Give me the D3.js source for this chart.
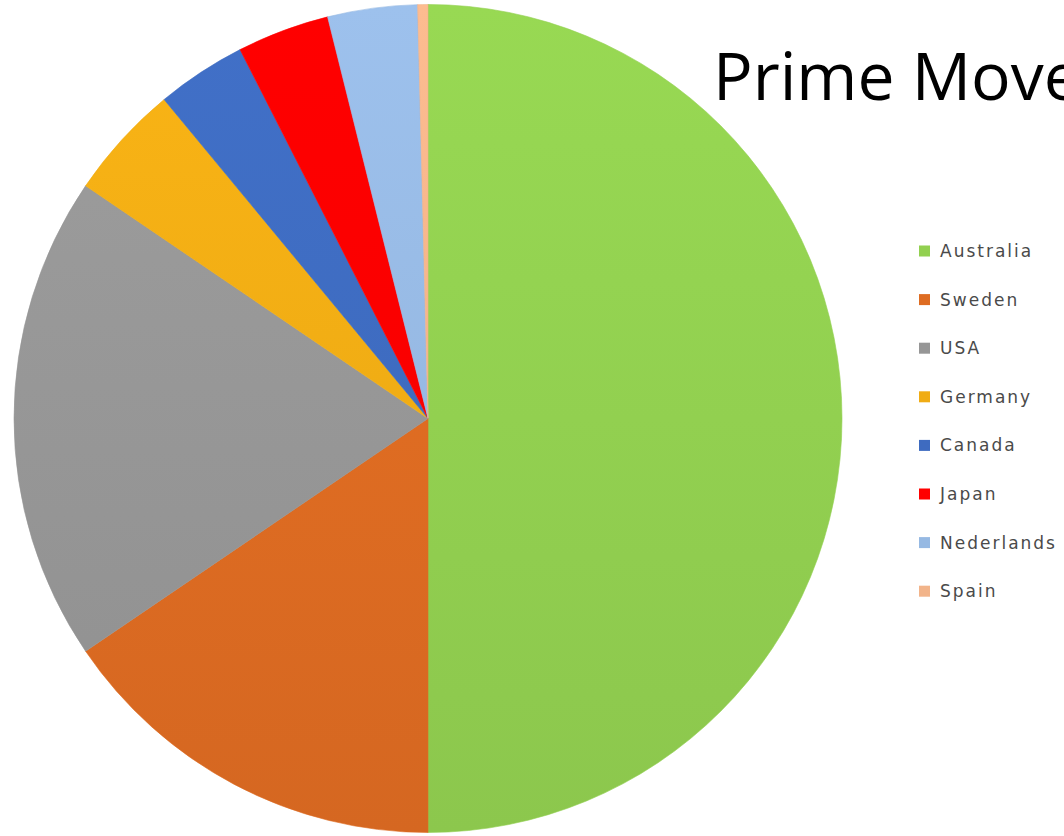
<!DOCTYPE html>
<html>
<head>
<meta charset="utf-8">
<script src="https://cdn.jsdelivr.net/npm/d3@7"></script>
<style>
  html, body { margin: 0; padding: 0; background: #ffffff; overflow: hidden; }
  svg { display: block; }
</style>
</head>
<body>
<svg id="chart" width="1064" height="836"></svg>
<script>
// Share of prime movers by country (percent)
const countries = ["Australia", "Sweden", "USA", "Germany", "Canada", "Japan", "Nederlands", "Spain"];
const shares = [50, 15.5, 19, 4.5, 3.5, 3.6, 3.5, 0.4];
const palette = ["#92D050", "#DE6C22", "#969696", "#F0AC14", "#3E6BC0", "#FF0000", "#96B9E3", "#F2B48A"];
const titleText = "Prime Movers";

const svg = d3.select("#chart");
const cx = 428, cy = 418.5, radius = 414;

const data = countries.map((c, i) => ({ country: c, value: shares[i] }));

const color = d3.scaleOrdinal().domain(countries).range(palette);

// Slight top-to-bottom shading on each wedge
const defs = svg.append("defs");
data.forEach((d, i) => {
  const g = defs.append("linearGradient")
    .attr("id", "grad" + i)
    .attr("gradientUnits", "userSpaceOnUse")
    .attr("x1", 0).attr("y1", -radius)
    .attr("x2", 0).attr("y2", radius);
  const base = d3.color(color(d.country));
  g.append("stop").attr("offset", "0%").attr("stop-color", base.brighter(0.12).formatHex());
  g.append("stop").attr("offset", "100%").attr("stop-color", base.darker(0.12).formatHex());
});

const pie = d3.pie().value(d => d.value).sort(null).startAngle(0).endAngle(2 * Math.PI);
const arc = d3.arc().innerRadius(0).outerRadius(radius);

const pieG = svg.append("g").attr("transform", `translate(${cx},${cy})`);
pieG.selectAll("path")
  .data(pie(data))
  .join("path")
  .attr("d", arc)
  .attr("fill", (d, i) => `url(#grad${i})`)
  .attr("stroke", d => color(d.data.country))
  .attr("stroke-width", 0.6);

// Title (runs off the right edge of the page)
svg.append("text")
  .attr("x", 713)
  .attr("y", 100)
  .attr("font-family", "'Open Sans', sans-serif")
  .attr("font-size", 66)
  .attr("fill", "#000000")
  .text(titleText);

// Legend
const legend = svg.append("g").attr("transform", "translate(919,251)");
const rowStep = 48.6;
const rows = legend.selectAll("g")
  .data(data)
  .join("g")
  .attr("transform", (d, i) => `translate(0,${i * rowStep})`);
rows.append("rect")
  .attr("x", 0).attr("y", -5.5)
  .attr("width", 11).attr("height", 11)
  .attr("fill", d => color(d.country));
rows.append("text")
  .attr("x", 21)
  .attr("y", 6)
  .attr("font-family", "'DejaVu Sans', sans-serif")
  .attr("font-size", 17)
  .attr("letter-spacing", 2)
  .attr("fill", "#4a4a4a")
  .text(d => d.country);
</script>
</body>
</html>
